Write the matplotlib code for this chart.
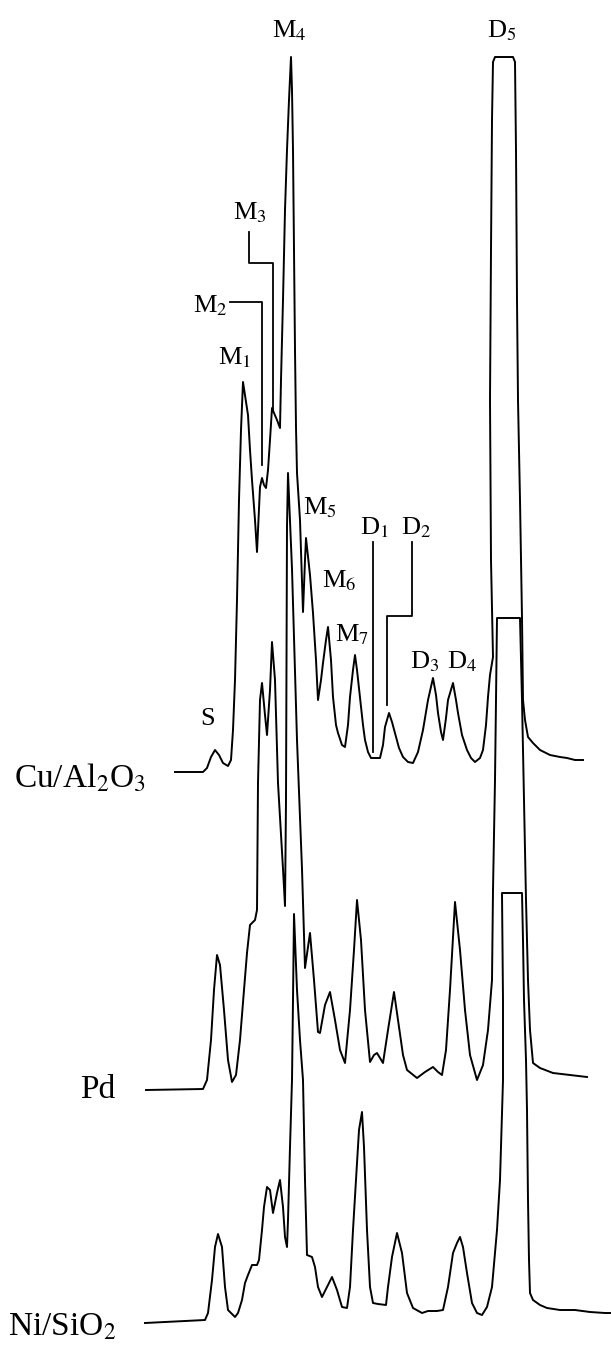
import matplotlib
matplotlib.use("Agg")
import matplotlib.pyplot as plt

plt.rcParams['font.family'] = ['Liberation Serif', 'DejaVu Serif']
plt.rcParams['mathtext.fontset'] = 'stix'

# retention position (arbitrary units) and detector signal above each baseline
cu_x = [175, 203, 207, 211, 215, 219, 223, 228, 231, 233, 235, 237, 239, 241, 243,
        245, 248, 250, 252, 255, 257, 258, 260, 262, 264, 266, 268, 270, 272, 274,
        277, 280, 281, 283, 285, 287, 289, 291, 292, 293, 294, 295, 296, 297, 300,
        302, 303, 305, 306, 308, 310, 313, 316, 318, 321, 323, 326, 328, 331, 333,
        336, 338, 342, 345, 348, 350, 353, 355, 357, 360, 363, 365, 368, 371, 380,
        383, 385, 389, 392, 395, 399, 403, 408, 413, 418, 423, 428, 433, 436, 438,
        441, 443, 446, 448, 453, 456, 458, 462, 467, 471, 475, 480, 483, 486, 488,
        490, 493, 491, 490, 491, 492, 493, 495, 513, 515, 516, 517, 518, 520, 522,
        523, 525, 528, 533, 540, 550, 560, 567, 575, 583]
cu_y = [0, 0, 4, 15, 22, 17, 9, 6, 12, 42, 92, 172, 272, 342, 390,
        377, 357, 322, 292, 252, 220, 242, 285, 294, 287, 284, 302, 332, 364, 359,
        352, 344, 392, 472, 562, 622, 672, 715, 682, 622, 522, 422, 345, 299, 252,
        192, 160, 212, 234, 215, 197, 159, 112, 72, 92, 109, 132, 145, 112, 75,
        47, 39, 27, 25, 47, 75, 102, 117, 102, 75, 47, 32, 20, 14, 14,
        27, 45, 59, 50, 39, 24, 15, 10, 9, 20, 42, 72, 94, 77, 59,
        40, 32, 54, 72, 89, 72, 59, 37, 22, 14, 10, 14, 22, 47, 75,
        97, 115, 212, 372, 522, 652, 710, 715, 715, 710, 622, 472, 372, 272, 154,
        72, 52, 35, 29, 22, 17, 15, 14, 12, 12]

pd_x = [146, 203, 207, 211, 214, 217, 220, 224, 228, 232, 236, 240, 244, 247, 250,
        255, 257, 258, 260, 262, 265, 267, 270, 272, 275, 278, 283, 285, 286, 287,
        288, 292, 297, 302, 305, 310, 314, 318, 320, 325, 330, 335, 340, 345, 350,
        354, 357, 361, 365, 370, 374, 377, 380, 383, 388, 394, 398, 403, 407, 417,
        425, 433, 438, 442, 446, 450, 455, 460, 465, 470, 477, 483, 488, 492, 493,
        495, 496, 497, 520, 522, 524, 526, 528, 530, 533, 540, 553, 570, 587]
pd_y = [-1, 0, 9, 49, 99, 134, 124, 79, 29, 7, 14, 49, 99, 136, 164,
        169, 179, 306, 389, 406, 374, 354, 399, 447, 409, 306, 220, 183, 289, 563,
        616, 520, 349, 220, 121, 156, 109, 57, 56, 84, 97, 69, 39, 26, 79,
        139, 189, 149, 79, 27, 34, 36, 31, 26, 59, 97, 69, 34, 19, 11,
        17, 22, 17, 14, 39, 99, 187, 139, 79, 34, 9, 24, 59, 109, 199,
        309, 389, 471, 471, 389, 289, 189, 109, 59, 26, 21, 16, 14, 12]

ni_x = [145, 205, 208, 212, 215, 218, 222, 225, 228, 235, 238, 242, 245, 248, 252,
        257, 259, 262, 264, 267, 270, 273, 277, 280, 283, 285, 287, 288, 290, 292,
        293, 294, 297, 300, 303, 305, 307, 312, 315, 318, 322, 327, 332, 337, 342,
        347, 350, 353, 357, 359, 362, 364, 367, 370, 373, 378, 386, 388, 392, 397,
        402, 407, 413, 422, 428, 437, 443, 448, 453, 457, 460, 463, 467, 472, 477,
        482, 487, 492, 497, 500, 503, 503, 502, 522, 523, 524, 526, 527, 528, 529,
        530, 533, 540, 547, 560, 575, 590, 605, 611]
ni_y = [-1, 2, 9, 42, 75, 88, 75, 35, 12, 5, 9, 22, 39, 47, 57,
        57, 62, 92, 115, 135, 132, 109, 129, 142, 115, 85, 75, 102, 175, 242,
        322, 408, 332, 282, 242, 142, 67, 65, 55, 35, 25, 35, 45, 32, 15,
        14, 35, 92, 159, 192, 210, 175, 92, 35, 19, 18, 17, 35, 65, 89,
        69, 29, 14, 9, 11, 11, 12, 35, 69, 79, 85, 75, 49, 19, 9,
        7, 15, 35, 92, 142, 242, 322, 429, 429, 382, 322, 262, 212, 122, 62,
        29, 22, 17, 14, 12, 12, 10, 9, 9]

samples = ['Cu/Al$_2$O$_3$', 'Pd', 'Ni/SiO$_2$']
baselines = [575, 258, 25]

fig = plt.figure(figsize=(6.11, 13.47), dpi=100)
ax = fig.add_axes([0, 0, 1, 1])
ax.set_xlim(0, 611)
ax.set_ylim(0, 1347)
ax.axis('off')

lw = 1.4
for xs, ys, b in zip([cu_x, pd_x, ni_x], [cu_y, pd_y, ni_y], baselines):
    ax.plot(xs, [b + v for v in ys], color='black', lw=lw, solid_joinstyle='round')

# sample names
ax.text(14, 560, samples[0], fontsize=24, ha='left', va='baseline')
ax.text(80, 249, samples[1], fontsize=24, ha='left', va='baseline')
ax.text(8, 12, samples[2], fontsize=24, ha='left', va='baseline')

# peak labels on the Cu/Al2O3 trace
cu0 = baselines[0]
lab = dict(fontsize=19, ha='center', va='baseline')
ax.text(289, 1310, 'M$_4$', **lab)
ax.text(502, 1310, 'D$_5$', **lab)
ax.text(250, 1128, 'M$_3$', **lab)
ax.text(210, 1035, 'M$_2$', **lab)
ax.text(235, 983, 'M$_1$', **lab)
ax.text(208, 622, 'S', **lab)
ax.text(320, 833, 'M$_5$', **lab)
ax.text(339, 760, 'M$_6$', **lab)
ax.text(352, 706, 'M$_7$', **lab)
ax.text(374, 813, 'D$_1$', **lab)
ax.text(416, 813, 'D$_2$', **lab)
ax.text(425, 679, 'D$_3$', **lab)
ax.text(462, 679, 'D$_4$', **lab)

# leader lines
k = dict(color='black', lw=1.3)
ax.plot([230, 262, 262], [cu0 + 470, cu0 + 470, cu0 + 307], **k)
ax.plot([249, 249, 273, 273], [cu0 + 540, cu0 + 509, cu0 + 509, cu0 + 362], **k)
ax.plot([373, 373], [cu0 + 230, cu0 + 20], **k)
ax.plot([412, 412, 387, 387], [cu0 + 230, cu0 + 156, cu0 + 156, cu0 + 67], **k)

fig.savefig('out.png', dpi=100, facecolor='white')
